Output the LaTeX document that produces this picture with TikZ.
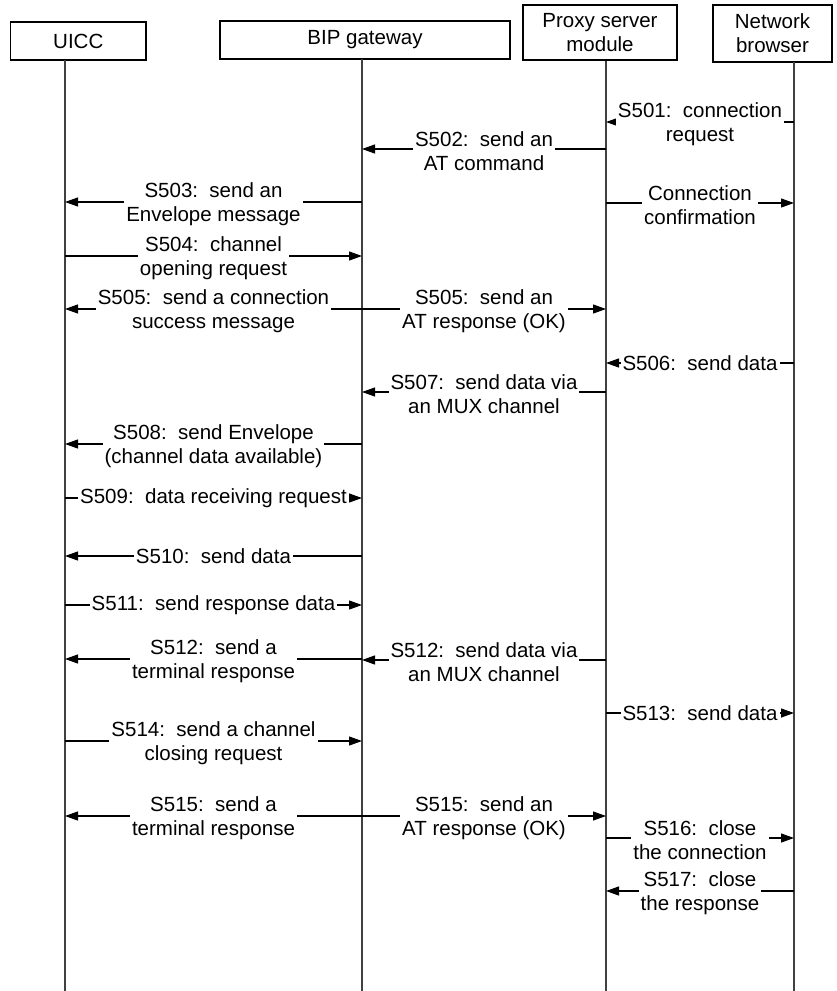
\documentclass[tikz,border=0pt]{standalone}
\usepackage{fontspec}
\setmainfont{Liberation Sans}
\usetikzlibrary{arrows.meta}
\newcommand\lblfont{\fontsize{20.5}{23.8}\selectfont}
\begin{document}
\begin{tikzpicture}[x=1pt,y=-1pt,
  head/.style={draw=black,line width=1.2pt,fill=white,align=center,inner sep=0pt,font=\lblfont},
  life/.style={draw=black!75,line width=1.2pt},
  msg/.style={draw=black,line width=1.2pt,-{Triangle[length=13pt,width=9pt]}},
  lbl/.style={fill=white,align=center,inner xsep=2pt,inner ysep=0pt,font=\lblfont},
  lbltwo/.style={lbl,yshift=-2pt},
]
\useasboundingbox (0,0) rectangle (836,991);
% heads
\node[head,minimum width=135.5pt,minimum height=38pt] (U) at (78.3,41) {UICC};
\node[head,minimum width=290pt,minimum height=38pt] (B) at (365,40) {BIP gateway};
\node[head,minimum width=154pt,minimum height=55pt] (P) at (600,32.5) {Proxy server\\module};
\node[head,minimum width=119pt,minimum height=57pt] (N) at (772.5,33.5) {Network\\browser};
% lifelines
\coordinate (Ut) at (65,60);  \coordinate (Ub) at (65,991);
\coordinate (Bt) at (362,59); \coordinate (Bb) at (362,991);
\coordinate (Pt) at (606,61); \coordinate (Pb) at (606,991);
\coordinate (Nt) at (794,62); \coordinate (Nb) at (794,991);
\draw[life] (Ut) -- (Ub);
\draw[life] (Bt) -- (Bb);
\draw[life] (Pt) -- (Pb);
\draw[life] (Nt) -- (Nb);
% message end points
\foreach \n/\y in {1/122,2/149,3/202,4/203,5/256,6/309,8/363,9/392,10/444,11/498,12/556,13/605,14/659,15/660,16/713,17/741,18/816,20/838,21/891}{
  \coordinate (u\n) at (65,\y);
  \coordinate (b\n) at (362,\y);
  \coordinate (p\n) at (606,\y);
  \coordinate (w\n) at (794,\y);
}
\draw[msg] (w1) -- node[lbltwo] {S501:\ \ connection\\request} (p1);
\draw[msg] (p2) -- node[lbltwo] {S502:\ \ send an\\AT command} (b2);
\draw[msg] (b3) -- node[lbltwo] {S503:\ \ send an\\Envelope message} (u3);
\draw[msg] (p4) -- node[lbltwo] {Connection\\confirmation} (w4);
\draw[msg] (u5) -- node[lbltwo] {S504:\ \ channel\\opening request} (b5);
\draw[msg] (b6) -- node[lbltwo] {S505:\ \ send a connection\\success message} (u6);
\draw[msg] (b6) -- node[lbltwo] {S505:\ \ send an\\AT response (OK)} (p6);
\draw[msg] (w8) -- node[lbl] {S506:\ \ send data} (p8);
\draw[msg] (p9) -- node[lbltwo] {S507:\ \ send data via\\an MUX channel} (b9);
\draw[msg] (b10) -- node[lbltwo] {S508:\ \ send Envelope\\(channel data available)} (u10);
\draw[msg] (u11) -- node[lbl] {S509:\ \ data receiving request} (b11);
\draw[msg] (b12) -- node[lbl] {S510:\ \ send data} (u12);
\draw[msg] (u13) -- node[lbl] {S511:\ \ send response data} (b13);
\draw[msg] (b14) -- node[lbltwo] {S512:\ \ send a\\terminal response} (u14);
\draw[msg] (p15) -- node[lbltwo] {S512:\ \ send data via\\an MUX channel} (b15);
\draw[msg] (p16) -- node[lbl] {S513:\ \ send data} (w16);
\draw[msg] (u17) -- node[lbltwo] {S514:\ \ send a channel\\closing request} (b17);
\draw[msg] (b18) -- node[lbltwo] {S515:\ \ send a\\terminal response} (u18);
\draw[msg] (b18) -- node[lbltwo] {S515:\ \ send an\\AT response (OK)} (p18);
\draw[msg] (p20) -- node[lbltwo] {S516:\ \ close\\the connection} (w20);
\draw[msg] (w21) -- node[lbltwo] {S517:\ \ close\\the response} (p21);
\end{tikzpicture}
\end{document}
